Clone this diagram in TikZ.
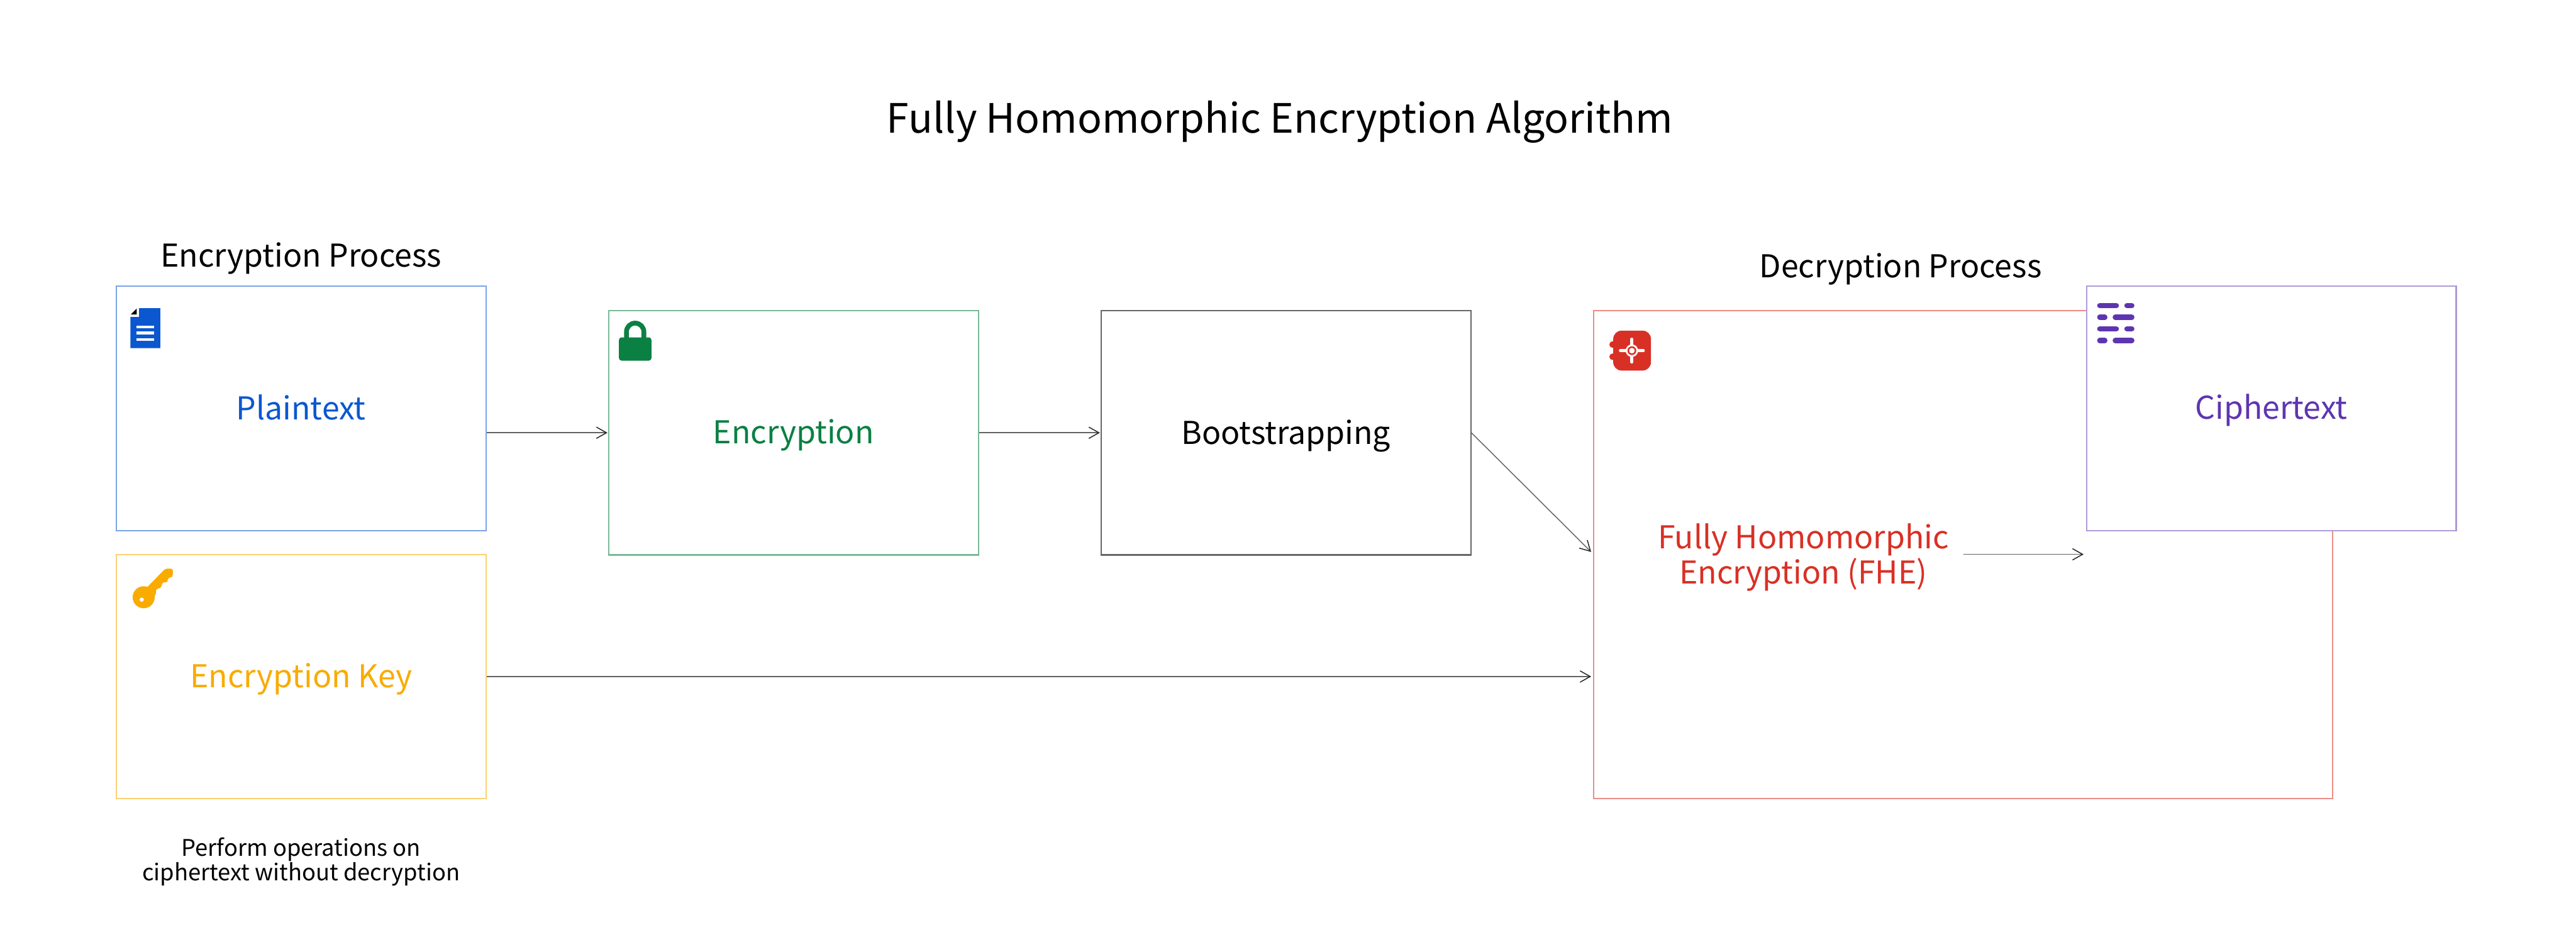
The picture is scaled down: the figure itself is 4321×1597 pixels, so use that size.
\documentclass[tikz,border=0pt]{standalone}
\usepackage{fontspec}
\usetikzlibrary{arrows.meta}
\setmainfont{Noto Sans CJK KR}
\definecolor{cBlue}{HTML}{0B57D0}
\definecolor{cOrange}{HTML}{F9AB00}
\definecolor{cGreen}{HTML}{0B8043}
\definecolor{cRed}{HTML}{D93025}
\definecolor{cPurple}{HTML}{5E35B1}
\tikzset{
  x=0.01cm,y=-0.01cm,
  px/.style={line width=#1*0.2845pt},
  box/.style={draw=#1,px=2.2,fill=white,rectangle,inner sep=0pt,minimum width=620*0.01cm,minimum height=410*0.01cm},
  label/.style={inner sep=0pt,align=center,font=\fontsize{15pt}{17pt}\selectfont},
  conn/.style={draw=black!62,px=1.5,-{Straight Barb[length=0.17cm,width=0.19cm,line width=0.45pt,black!85]}},
}
\begin{document}
\begin{tikzpicture}
\useasboundingbox (0,0) rectangle (4321,1597);
% boxes
\node[box=cRed!55,minimum width=1240*0.01cm,minimum height=819*0.01cm] (fhe) at (3293,930.5) {};
\node[box=cBlue!55] (plain) at (505,685) {};
\node[box=cOrange!55] (key) at (505,1135) {};
\node[box=cGreen!55] (enc) at (1331,726) {};
\node[box=black!60] (boot) at (2157,726) {};
\node[box=cPurple!50] (ciph) at (3810,685) {};
% titles
\node[label,font=\fontsize{19.3pt}{23pt}\selectfont] (title) at (2147,205) {Fully Homomorphic Encryption Algorithm};
\node[label] (encp) at (505,434) {Encryption Process};
\node[label] (decp) at (3188,451) {Decryption Process};
% inner labels
\node[label,text=cBlue] (plaintxt) at (505,683) {Plaintext};
\node[label,text=cGreen] (enctxt) at (1331,730) {Encryption};
\node[label] (boottxt) at (2157,731) {Bootstrapping};
\node[label,text=cOrange] (keytxt) at (505,1139) {Encryption Key};
\node[label,text=cRed,inner xsep=24*0.01cm] (fhetxt) at (3025,935) {Fully Homomorphic\\Encryption (FHE)};
\node[label,text=cPurple] (ciphtxt) at (3810,688) {Ciphertext};
\node[label,font=\fontsize{10.9pt}{11.7pt}\selectfont] (note) at (505,1446) {Perform operations on\\ciphertext without decryption};
% connectors
\coordinate (enchin) at (1019,726);
\coordinate (boothin) at (1845,726);
\coordinate (bootin) at (2669,926);
\coordinate (keyin) at (2669,1135);
\coordinate (ciphin) at (3495,930);
\coordinate (fheout) at (fhetxt.east|-ciphin);
\draw[conn] (plain.east|-enc.west) -- (enchin);
\draw[conn] (enc.east) -- (boothin);
\draw[conn] (boot.east) -- (bootin);
\draw[conn] (key.east) -- (keyin);
\draw[conn] (fheout) -- (ciphin);
% document icon
\fill[cBlue] (233.3,517) -- (269,517) -- (269,584) -- (218.7,584) -- (218.7,531.7) -- (233.3,531.7) -- cycle;
\fill[black] (219.3,527.7) -- (229.3,517.7) -- (229.3,527.7) -- cycle;
\draw[white,px=4.5] (229,548.3) -- (258.7,548.3) (229,558.7) -- (258.7,558.7) (229,569.3) -- (258.7,569.3);
% key icon
\fill[cOrange] (241,1002) circle (18.5*0.01cm);
\fill[cOrange,rounded corners=1pt] (246,986) -- (277.3,954) -- (290,954) -- (290,965) -- (288,969) -- (281.7,969) -- (281.7,975) -- (279,977) -- (271.7,977) -- (271.7,983) -- (268,987.5) -- (261.7,987.5) -- (261.7,997) -- (257,1003) -- cycle;
\fill[white] (237.7,1006) circle (3.5*0.01cm);
% lock icon
\draw[cGreen,px=8] (1050.8,570) -- (1050.8,556.7) arc[start angle=180,end angle=0,radius=14.6*0.01cm] -- (1080,570);
\fill[cGreen,rounded corners=1.2pt] (1038.3,566) rectangle (1092.7,605);
% target icon
\fill[cRed] (2705,578) circle (5.5*0.01cm) (2705,598.5) circle (5.5*0.01cm);
\fill[cRed,rounded corners=4pt] (2706,554.7) rectangle (2769.3,621.7);
\draw[white,px=5,line cap=round] (2737.3,569) -- (2737.3,607.5) (2718,588.3) -- (2756.5,588.3);
\fill[white] (2737.3,588.3) circle (10.5*0.01cm);
\fill[cRed] (2737.3,588.3) circle (7.4*0.01cm);
\fill[white] (2737.3,588.3) circle (4.7*0.01cm);
% cipher icon
\draw[cPurple,px=9,line cap=round]
 (3522.2,512.7) -- (3549.8,512.7) (3567.8,512.7) -- (3575.8,512.7)
 (3522.2,532.3) -- (3530.5,532.3) (3548.2,532.3) -- (3575.8,532.3)
 (3522.2,551.7) -- (3549.8,551.7) (3567.8,551.7) -- (3575.8,551.7)
 (3522.2,571.3) -- (3530.5,571.3) (3548.2,571.3) -- (3575.8,571.3);
\end{tikzpicture}
\end{document}
